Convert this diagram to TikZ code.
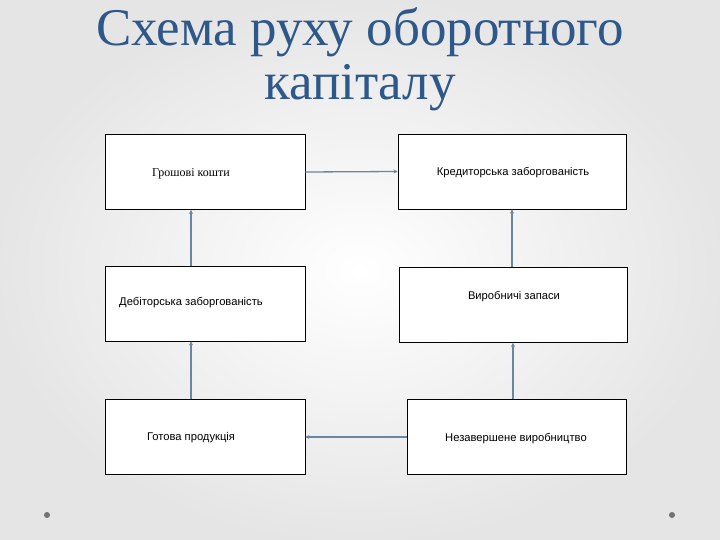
\documentclass[tikz,border=0pt]{standalone}
\usepackage{fontspec}
\setmainfont{Liberation Serif}
\newfontfamily\boxfont{Liberation Sans}
\usetikzlibrary{arrows.meta}
\definecolor{titleblue}{RGB}{46,88,138}
\definecolor{linkgray}{RGB}{105,135,160}
\tikzset{
  block/.style={draw=black, fill=white, line width=0.9pt, rounded corners=0cm,
                inner sep=0pt, minimum height=75pt},
  blocktext/.style={text=black, font=\boxfont\fontsize{11.2}{12}\selectfont, inner sep=0pt},
  titletext/.style={text=titleblue, font=\fontsize{53}{52}\selectfont, inner sep=0pt, anchor=base},
  link/.style={draw=linkgray, line width=1.3pt, -{Stealth[length=4pt,width=4pt]}},
}
\begin{document}
\begin{tikzpicture}[x=1pt,y=-1pt]

\shade[inner color=white, outer color=black!10] (0,0) rectangle (720,540);
\useasboundingbox (0,0) rectangle (720,540);

\node[titletext] (title1) at (360,46) {Схема руху оборотного};
\node[titletext] (title2) at (360,100) {капіталу};

\node[block, minimum width=200pt] (gk) at (205,172) {};
\node[blocktext, font=\fontsize{12}{13}\selectfont] (gktxt) at (191,174) {Грошові кошти};
\node[block, minimum width=200pt] (db) at (205,303.5) {};
\node[blocktext] (dbtxt) at (191,303) {Дебіторська заборгованість};
\node[block, minimum width=200pt] (gp) at (205,437) {};
\node[blocktext] (gptxt) at (191,438) {Готова продукція};

\node[block, minimum width=228pt] (kz) at (512,171.5) {};
\node[blocktext] (kztxt) at (513,173) {Кредиторська заборгованість};
\node[block, minimum width=228pt] (vz) at (513,305) {};
\node[blocktext] (vztxt) at (514,297) {Виробничі запаси};
\node[block, minimum width=219pt] (nv) at (516.5,437) {};
\node[blocktext] (nvtxt) at (516,439) {Незавершене виробництво};

\draw[link] (gk.east) -- (kz.west);
\draw[link] (dbtxt |- db.north) -- (gktxt |- gk.south);
\draw[link] (gptxt |- gp.north) -- (gktxt |- db.south);
\draw[link] (vz.north -| kz.south) -- (kz.south);
\draw[link] (nv.north -| vz.south) -- (vz.south);
\draw[link] (nv.west) -- (gp.east);

\fill[black!55] (47,515) circle (3pt);
\fill[black!55] (672,515) circle (3pt);
\end{tikzpicture}
\end{document}
